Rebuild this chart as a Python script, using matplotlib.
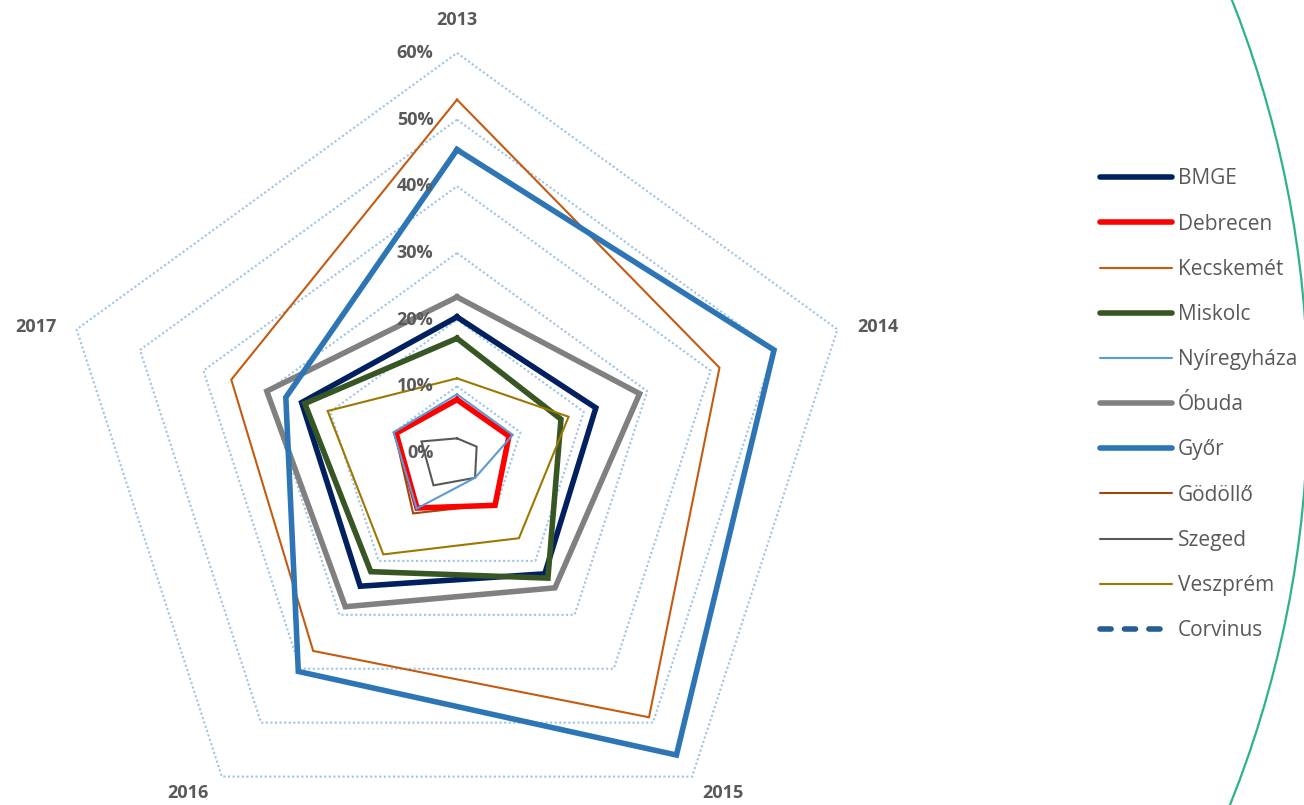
import numpy as np
import matplotlib
matplotlib.use("Agg")
import matplotlib.pyplot as plt
from matplotlib.lines import Line2D
from matplotlib.patches import Circle

plt.rcParams['font.family'] = ['Open Sans', 'DejaVu Sans']

categories = ["2013", "2014", "2015", "2016", "2017"]
ring_levels = [0.1, 0.2, 0.3, 0.4, 0.5, 0.6]
ring_labels = ["0%", "10%", "20%", "30%", "40%", "50%", "60%"]

series_names = ["BMGE", "Debrecen", "Kecskemét", "Miskolc", "Nyíregyháza",
                "Óbuda", "Győr", "Gödöllő", "Szeged", "Veszprém", "Corvinus"]
bmge = [0.204, 0.219, 0.224, 0.247, 0.245]
debrecen = [0.080, 0.082, 0.097, 0.102, 0.096]
kecskemet = [0.530, 0.414, 0.490, 0.367, 0.356]
miskolc = [0.172, 0.164, 0.232, 0.220, 0.240]
nyiregyhaza = [0.088, 0.088, 0.046, 0.103, 0.100]
obuda = [0.234, 0.288, 0.250, 0.285, 0.300]
gyor = [0.455, 0.500, 0.560, 0.405, 0.270]
godollo = [0.083, 0.080, 0.095, 0.112, 0.098]
szeged = [0.022, 0.031, 0.046, 0.060, 0.056]
veszprem = [0.112, 0.176, 0.158, 0.188, 0.204]
corvinus = [np.nan, np.nan, np.nan, np.nan, np.nan]

series_values = [bmge, debrecen, kecskemet, miskolc, nyiregyhaza, obuda,
                 gyor, godollo, szeged, veszprem, corvinus]
colors = ["#002060", "#FF0000", "#C55A11", "#375623", "#5B9BD5", "#808080",
          "#2E75B6", "#9E480E", "#595959", "#9C7800", "#255E91"]
widths = [4.0, 4.0, 1.5, 4.0, 1.5, 4.0, 4.0, 1.5, 1.5, 1.5, 4.0]
styles = ["-", "-", "-", "-", "-", "-", "-", "-", "-", "-", (0, (2.0, 2.4))]
zorders = [3, 4, 3, 3, 5, 3, 3, 2, 3, 3, 3]

# category label offsets (points) from the outer-ring vertex
cat_offsets = [(0, 24), (29, 2), (22, -11.5), (-24.5, -11.5), (-29, 2)]

W, H = 1304, 805
fig = plt.figure(figsize=(W / 100, H / 100), dpi=100)

# decorative arc on the right edge
bg = fig.add_axes([0, 0, 1, 1])
bg.set_xlim(0, W)
bg.set_ylim(H, 0)
bg.axis("off")
bg.add_patch(Circle((218, 400), 1090, fill=False, edgecolor="#2DB38A", lw=1.6))

cx, cy, R = 457, 453, 400
ax = fig.add_axes([(cx - R) / W, (H - cy - R) / H, 2 * R / W, 2 * R / H],
                  projection="polar")
ax.set_theta_offset(np.pi / 2)
ax.set_theta_direction(-1)
ax.set_ylim(0, 0.6)
ax.set_xticks([])
ax.set_yticks([])
ax.grid(False)
ax.spines["polar"].set_visible(False)
ax.patch.set_visible(False)

n = len(categories)
theta = np.linspace(0, 2 * np.pi, n, endpoint=False)
theta_c = np.append(theta, theta[0])

for lvl in ring_levels:
    ax.plot(theta_c, [lvl] * (n + 1), color="#9DC3E6", lw=1.5,
            linestyle=(0, (1, 1.2)), zorder=1, clip_on=False)

handles = []
for name, vals, c, w, s, z in zip(series_names, series_values, colors,
                                  widths, styles, zorders):
    v = np.append(vals, vals[0])
    ax.plot(theta_c, v, color=c, lw=w, linestyle=s, zorder=z,
            clip_on=False, solid_joinstyle="miter")
    handles.append(Line2D([], [], color=c, lw=w, linestyle=s,
                          solid_capstyle="round", dash_capstyle="round"))

for lbl, lvl in zip(ring_labels, [0.0] + ring_levels):
    ax.annotate(lbl, xy=(0, lvl), xytext=(-17, 0), textcoords="offset points",
                ha="right", va="center", fontsize=13, fontweight="bold",
                color="#595959", annotation_clip=False)

for t, cat, off in zip(theta, categories, cat_offsets):
    ax.annotate(cat, xy=(t, ring_levels[-1]), xytext=off,
                textcoords="offset points", ha="center", va="center",
                fontsize=13, fontweight="bold", color="#595959",
                annotation_clip=False)

leg = fig.legend(handles, series_names, loc="upper left",
                 bbox_to_anchor=(1100 / W, (H - 168.5) / H), frameon=False,
                 fontsize=15, handlelength=3.45, handletextpad=0.3,
                 labelspacing=1.16, borderpad=0, borderaxespad=0)
for t in leg.get_texts():
    t.set_color("#595959")

fig.savefig("out.png", dpi=100)
